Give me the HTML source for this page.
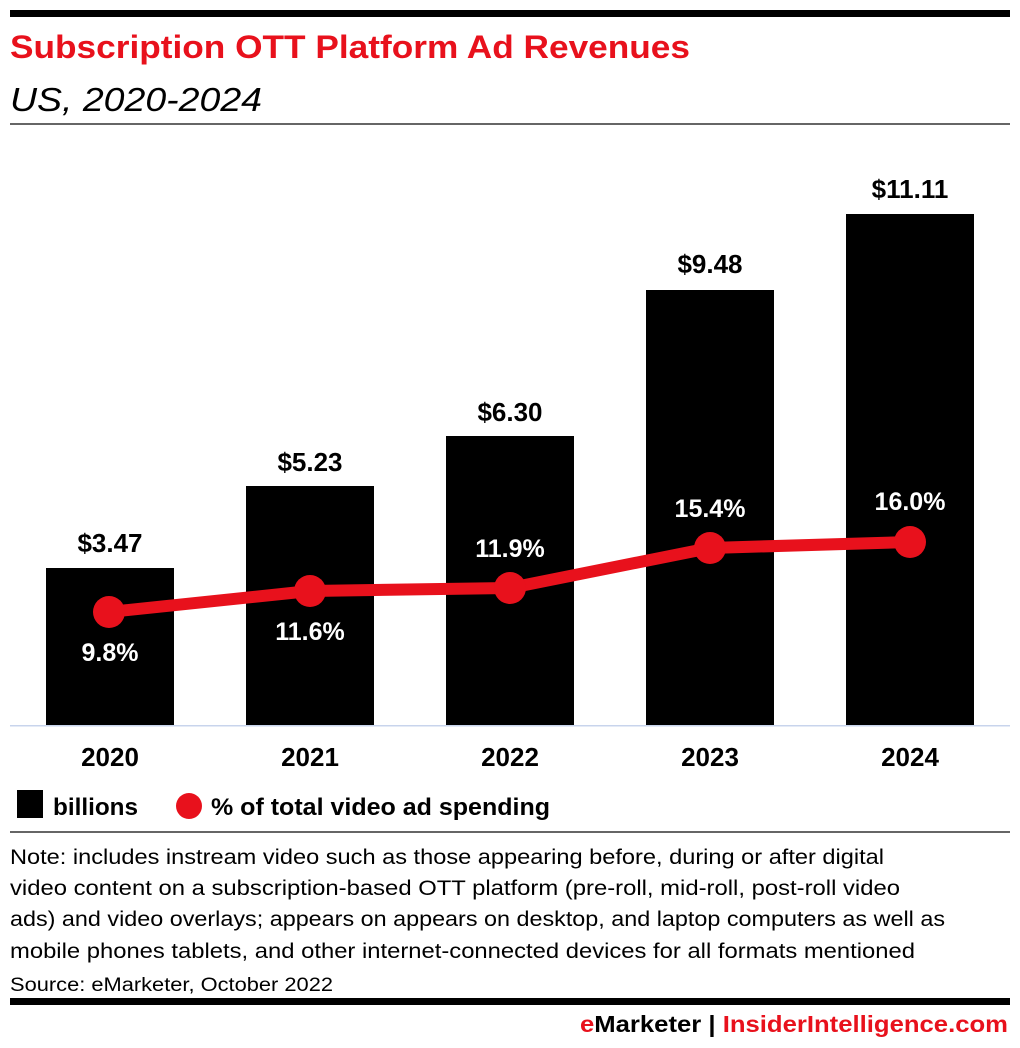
<!DOCTYPE html>
<html><head><meta charset="utf-8"><style>
html,body{margin:0;padding:0;background:#fff;width:1020px;height:1048px;overflow:hidden}
svg{display:block}
text{font-family:"Liberation Sans",sans-serif}
</style></head><body>
<svg width="1020" height="1048" viewBox="0 0 1020 1048" xmlns="http://www.w3.org/2000/svg">
<rect x="10" y="10" width="1000" height="7" fill="#000"/>
<text x="10" y="58" font-size="32" font-weight="bold" fill="#e8111c" textLength="680" lengthAdjust="spacingAndGlyphs">Subscription OTT Platform Ad Revenues</text>
<text x="10" y="111" font-size="33" font-style="italic" fill="#000" textLength="252" lengthAdjust="spacingAndGlyphs">US, 2020-2024</text>
<rect x="10" y="123" width="1000" height="2" fill="#666"/>
<g fill="#000">
<rect x="46" y="568" width="128" height="158"/>
<rect x="246" y="486" width="128" height="240"/>
<rect x="446" y="436" width="128" height="290"/>
<rect x="646" y="290" width="128" height="436"/>
<rect x="846" y="214" width="128" height="512"/>
</g>
<rect x="10" y="725" width="1000" height="1.5" fill="#c8d4ec"/>
<g font-size="26" font-weight="bold" text-anchor="middle" fill="#000">
<text x="110" y="552">$3.47</text>
<text x="310" y="471">$5.23</text>
<text x="510" y="421">$6.30</text>
<text x="710" y="273">$9.48</text>
<text x="910" y="198">$11.11</text>
<text x="110" y="766">2020</text>
<text x="310" y="766">2021</text>
<text x="510" y="766">2022</text>
<text x="710" y="766">2023</text>
<text x="910" y="766">2024</text>
</g>
<polyline points="109,612 310,591 510,588 710,548 910,542" fill="none" stroke="#e8111c" stroke-width="12" stroke-linejoin="round"/>
<g fill="#e8111c">
<circle cx="109" cy="612" r="16"/>
<circle cx="310" cy="591" r="16"/>
<circle cx="510" cy="588" r="16"/>
<circle cx="710" cy="548" r="16"/>
<circle cx="910" cy="542" r="16"/>
</g>
<g font-size="25" font-weight="bold" text-anchor="middle" fill="#fff">
<text x="110" y="661">9.8%</text>
<text x="310" y="640">11.6%</text>
<text x="510" y="557">11.9%</text>
<text x="710" y="517">15.4%</text>
<text x="910" y="510">16.0%</text>
</g>
<rect x="17" y="790" width="26" height="28" fill="#000"/>
<text x="53" y="815" font-size="24" font-weight="bold" textLength="85" lengthAdjust="spacingAndGlyphs">billions</text>
<circle cx="189" cy="806" r="13" fill="#e8111c"/>
<text x="211" y="815" font-size="24" font-weight="bold" textLength="339" lengthAdjust="spacingAndGlyphs">% of total video ad spending</text>
<rect x="10" y="831" width="1000" height="2" fill="#666"/>
<g font-size="21" fill="#000">
<text x="10" y="864" textLength="874" lengthAdjust="spacingAndGlyphs">Note: includes instream video such as those appearing before, during or after digital</text>
<text x="10" y="895" textLength="890" lengthAdjust="spacingAndGlyphs">video content on a subscription-based OTT platform (pre-roll, mid-roll, post-roll video</text>
<text x="10" y="926" textLength="935" lengthAdjust="spacingAndGlyphs">ads) and video overlays; appears on appears on desktop, and laptop computers as well as</text>
<text x="10" y="958" textLength="905" lengthAdjust="spacingAndGlyphs">mobile phones tablets, and other internet-connected devices for all formats mentioned</text>
<text x="10" y="991" font-size="19" textLength="323" lengthAdjust="spacingAndGlyphs">Source: eMarketer, October 2022</text>
</g>
<rect x="10" y="998" width="1000" height="7" fill="#000"/>
<text x="580" y="1032" font-size="23" font-weight="bold" textLength="428" lengthAdjust="spacingAndGlyphs"><tspan fill="#e8111c">e</tspan><tspan fill="#000">Marketer | </tspan><tspan fill="#e8111c">InsiderIntelligence.com</tspan></text>
</svg>
</body></html>
